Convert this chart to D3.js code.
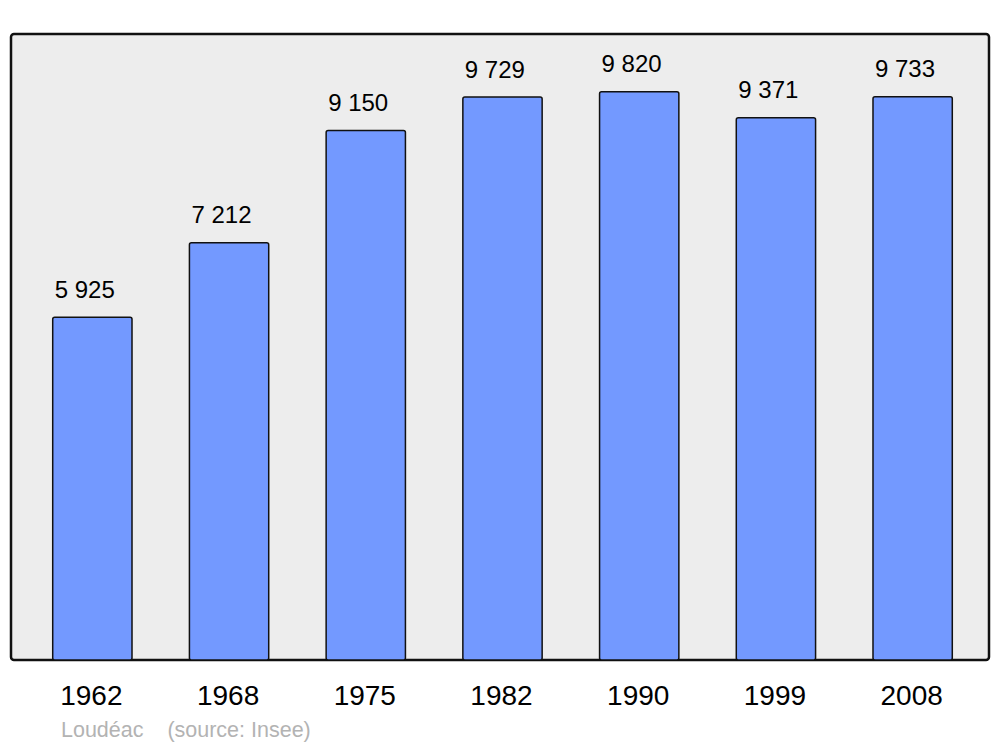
<!DOCTYPE html>
<meta charset="utf-8">
<style>
  body { margin: 0; background: #fff; }
  text { font-family: "Liberation Sans", Arial, sans-serif; }
</style>
<body>
<script src="https://d3js.org/d3.v7.min.js"></script>
<script>
// population data
var years = ["1962", "1968", "1975", "1982", "1990", "1999", "2008"];
var population = [5925, 7212, 9150, 9729, 9820, 9371, 9733];
var valueLabels = ["5 925", "7 212", "9 150", "9 729", "9 820", "9 371", "9 733"];
var place = "Loudéac";
var source = "(source: Insee)";

var width = 1000, height = 747;

var svg = d3.select("body").append("svg")
    .attr("width", width)
    .attr("height", height);

// frame of the plot
var frame = {left: 11, top: 34, right: 989, bottom: 660};

svg.append("rect")
  .attr("x", frame.left)
  .attr("y", frame.top)
  .attr("width", frame.right - frame.left)
  .attr("height", frame.bottom - frame.top)
  .attr("rx", 3)
  .attr("fill", "#ededed")
  .attr("stroke", "#111")
  .attr("stroke-width", 2.5);

var x = d3.scaleBand()
    .domain(years)
    .range([24, 981])
    .paddingInner(0.42)
    .paddingOuter(0.21);

var y = d3.scaleLinear()
    .domain([0, d3.max(population) * 1.1])
    .range([frame.bottom, frame.top + 1]);

var data = years.map(function(d, i) {
  return {year: d, value: population[i], label: valueLabels[i]};
});

var bars = svg.append("g").attr("id", "bars");

bars.selectAll("rect")
  .data(data)
  .enter().append("rect")
    .attr("x", function(d) { return x(d.year); })
    .attr("y", function(d) { return y(d.value); })
    .attr("width", x.bandwidth())
    .attr("height", function(d) { return y(0) - y(d.value); })
    .attr("rx", 2)
    .attr("fill", "#7399ff")
    .attr("stroke", "#111")
    .attr("stroke-width", 1.5);

// value labels sit above the bars, starting at the bar's left edge
bars.selectAll("text.value")
  .data(data)
  .enter().append("text")
    .attr("class", "value")
    .attr("x", function(d) { return x(d.year) + 2; })
    .attr("y", function(d) { return y(d.value) - 19.5; })
    .attr("font-size", 24)
    .attr("fill", "#000")
    .text(function(d) { return d.label; });

// year labels under the frame
svg.append("g").selectAll("text")
  .data(years)
  .enter().append("text")
    .attr("x", function(d) { return x(d) + x.bandwidth() / 2 - 1; })
    .attr("y", 705)
    .attr("text-anchor", "middle")
    .attr("font-size", 28)
    .attr("fill", "#000")
    .text(function(d) { return d; });

svg.append("text")
  .attr("x", 61)
  .attr("y", 737)
  .attr("font-size", 21.5)
  .attr("fill", "#b3b3b3")
  .attr("xml:space", "preserve")
  .style("white-space", "pre")
  .text(place + "    " + source);
</script>
</body>
